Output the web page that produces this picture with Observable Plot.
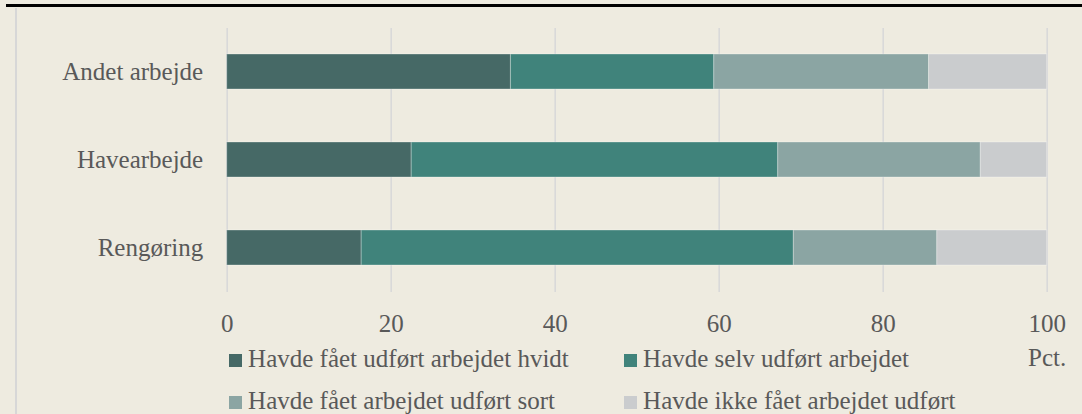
<!DOCTYPE html>
<html>
<head>
<meta charset="utf-8">
<script src="https://cdn.jsdelivr.net/npm/d3@7"></script>
<script src="https://cdn.jsdelivr.net/npm/@observablehq/plot@0.6"></script>
<style>
  html, body { margin: 0; padding: 0; background: #EEEBE0; }
  #wrap { position: relative; width: 1082px; height: 414px; overflow: hidden; background: #EEEBE0;
          font-family: "Liberation Serif", serif; color: #595959; }
  #topline { position: absolute; left: 6px; right: 0; top: 4px; height: 3px; background: #000; }
  #leftline { position: absolute; left: 15px; width: 1.6px; top: 8px; bottom: 0; background: #d7d7d7; }
  #chart { position: absolute; left: 0; top: 0; }
  #legend { position: absolute; left: 228.6px; top: 337.6px; display: grid;
            grid-template-columns: 395px 420px; font-size: 25px; line-height: 42px; white-space: nowrap; }
  .sw { display: inline-block; width: 13px; height: 13px; margin-right: 6.5px; vertical-align: baseline; }
</style>
</head>
<body>
<div id="wrap">
  <div id="topline"></div>
  <div id="leftline"></div>
  <div id="chart"></div>
  <div id="legend"></div>
</div>
<script>
const categories = ["Andet arbejde", "Havearbejde", "Rengøring"];
const series = [
  "Havde fået udført arbejdet hvidt",
  "Havde selv udført arbejdet",
  "Havde fået arbejdet udført sort",
  "Havde ikke fået arbejdet udført"
];
const hvidt = [34.6, 22.5, 16.4];
const selv = [24.8, 44.7, 52.7];
const sort = [26.2, 24.7, 17.5];
const ikke = [14.4, 8.1, 13.4];
const xTicks = [0, 20, 40, 60, 80, 100];
const unitLabel = "Pct.";
const colors = ["#466966", "#40837b", "#8ba5a3", "#caccce"];

const seriesValues = [hvidt, selv, sort, ikke];
const data = [];
series.forEach((s, si) => {
  categories.forEach((c, ci) => {
    data.push({ series: s, category: c, value: seriesValues[si][ci] });
  });
});

const chart = Plot.plot({
  width: 1082,
  height: 414,
  marginLeft: 226.7,
  marginRight: 35.3,
  marginTop: 28,
  marginBottom: 122,
  style: { background: "transparent", fontFamily: "Liberation Serif, serif", fontSize: "25px", color: "#595959", overflow: "visible" },
  x: { domain: [0, 100], ticks: xTicks },
  y: { domain: categories, paddingInner: 0.6, paddingOuter: 0.3, align: 0.5 },
  color: { domain: series, range: colors },
  marks: [
    Plot.gridX(xTicks, { stroke: "#d9d9d9", strokeOpacity: 1, strokeWidth: 1.6 }),
    Plot.barX(data, Plot.stackX({ x: "value", y: "category", fill: "series", stroke: "#ffffff", strokeOpacity: 0.3, strokeWidth: 1 })),
    Plot.axisX(xTicks, { tickSize: 0, tickPadding: 22, fontSize: 25, label: null, fill: "#595959" }),
    Plot.axisY({ tickSize: 0, tickPadding: 24, fontSize: 25, label: null, fill: "#595959" }),
    Plot.text([unitLabel], { x: 100, frameAnchor: "bottom", lineAnchor: "top", dy: 55.75, fontSize: 25, fill: "#595959" })
  ]
});
document.getElementById("chart").appendChild(chart);

const legend = document.getElementById("legend");
series.forEach((s, i) => {
  const item = document.createElement("div");
  const sw = document.createElement("span");
  sw.className = "sw";
  sw.style.background = colors[i];
  item.appendChild(sw);
  item.appendChild(document.createTextNode(s));
  legend.appendChild(item);
});
</script>
</body>
</html>
